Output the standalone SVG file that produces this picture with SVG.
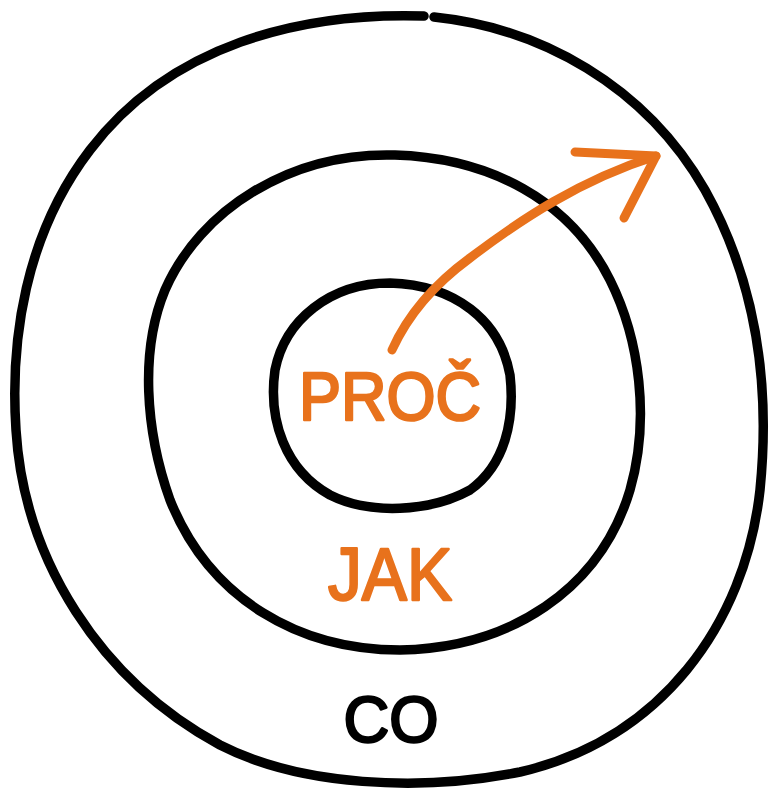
<svg xmlns="http://www.w3.org/2000/svg" width="774" height="792" viewBox="0 0 774 792">
<style>
.ring{fill:none;stroke:#000;stroke-width:9.5;stroke-linecap:round;stroke-linejoin:round}
.lbl{font-family:"Liberation Sans",Arial,sans-serif;text-anchor:middle;stroke-width:2.5;stroke-linejoin:round}
.or{fill:#E8721C;stroke:#E8721C}
.bk{fill:#000;stroke:#000}
.arrow{fill:none;stroke:#E8721C;stroke-width:9;stroke-linecap:round;stroke-linejoin:round}
</style>
<rect width="774" height="792" fill="#fff"/>
<g id="outer">
<path class="ring" d="M424,16 C300,12 170,45 90,150 C25,235 10,340 16,430 C24,560 100,680 220,745 C300,786 420,792 520,772 C660,740 745,625 760,490 C770,390 758,285 705,190 C645,85 540,28 434,17"/>
</g>
<g id="middle">
<path class="ring" d="M395,155 C290,152 200,210 165,290 C140,350 145,430 170,500 C210,600 300,650 400,650 C510,648 600,590 630,490 C650,420 640,340 610,280 C570,200 490,158 395,155 Z"/>
</g>
<g id="inner">
<path class="ring" d="M390,283 C330,283 285,320 275,370 C268,420 285,470 330,495 C370,515 430,512 470,490 C505,465 515,420 510,375 C500,320 455,285 390,283 Z"/>
</g>
<g id="connectors">
<path class="arrow" d="M392,350 C410,310 440,280 470,258 C520,220 580,180 656,156"/>
<path class="arrow" d="M575,152 L656,156 L624,218"/>
</g>
<g id="proc"><text class="lbl or" x="390" y="420" font-size="68" textLength="182" lengthAdjust="spacingAndGlyphs">PROČ</text></g>
<g id="jak"><text class="lbl or" x="390" y="600" font-size="75" textLength="124" lengthAdjust="spacingAndGlyphs">JAK</text></g>
<g id="co"><text class="lbl bk" x="391" y="742" font-size="65" textLength="95" lengthAdjust="spacingAndGlyphs">CO</text></g>
</svg>
